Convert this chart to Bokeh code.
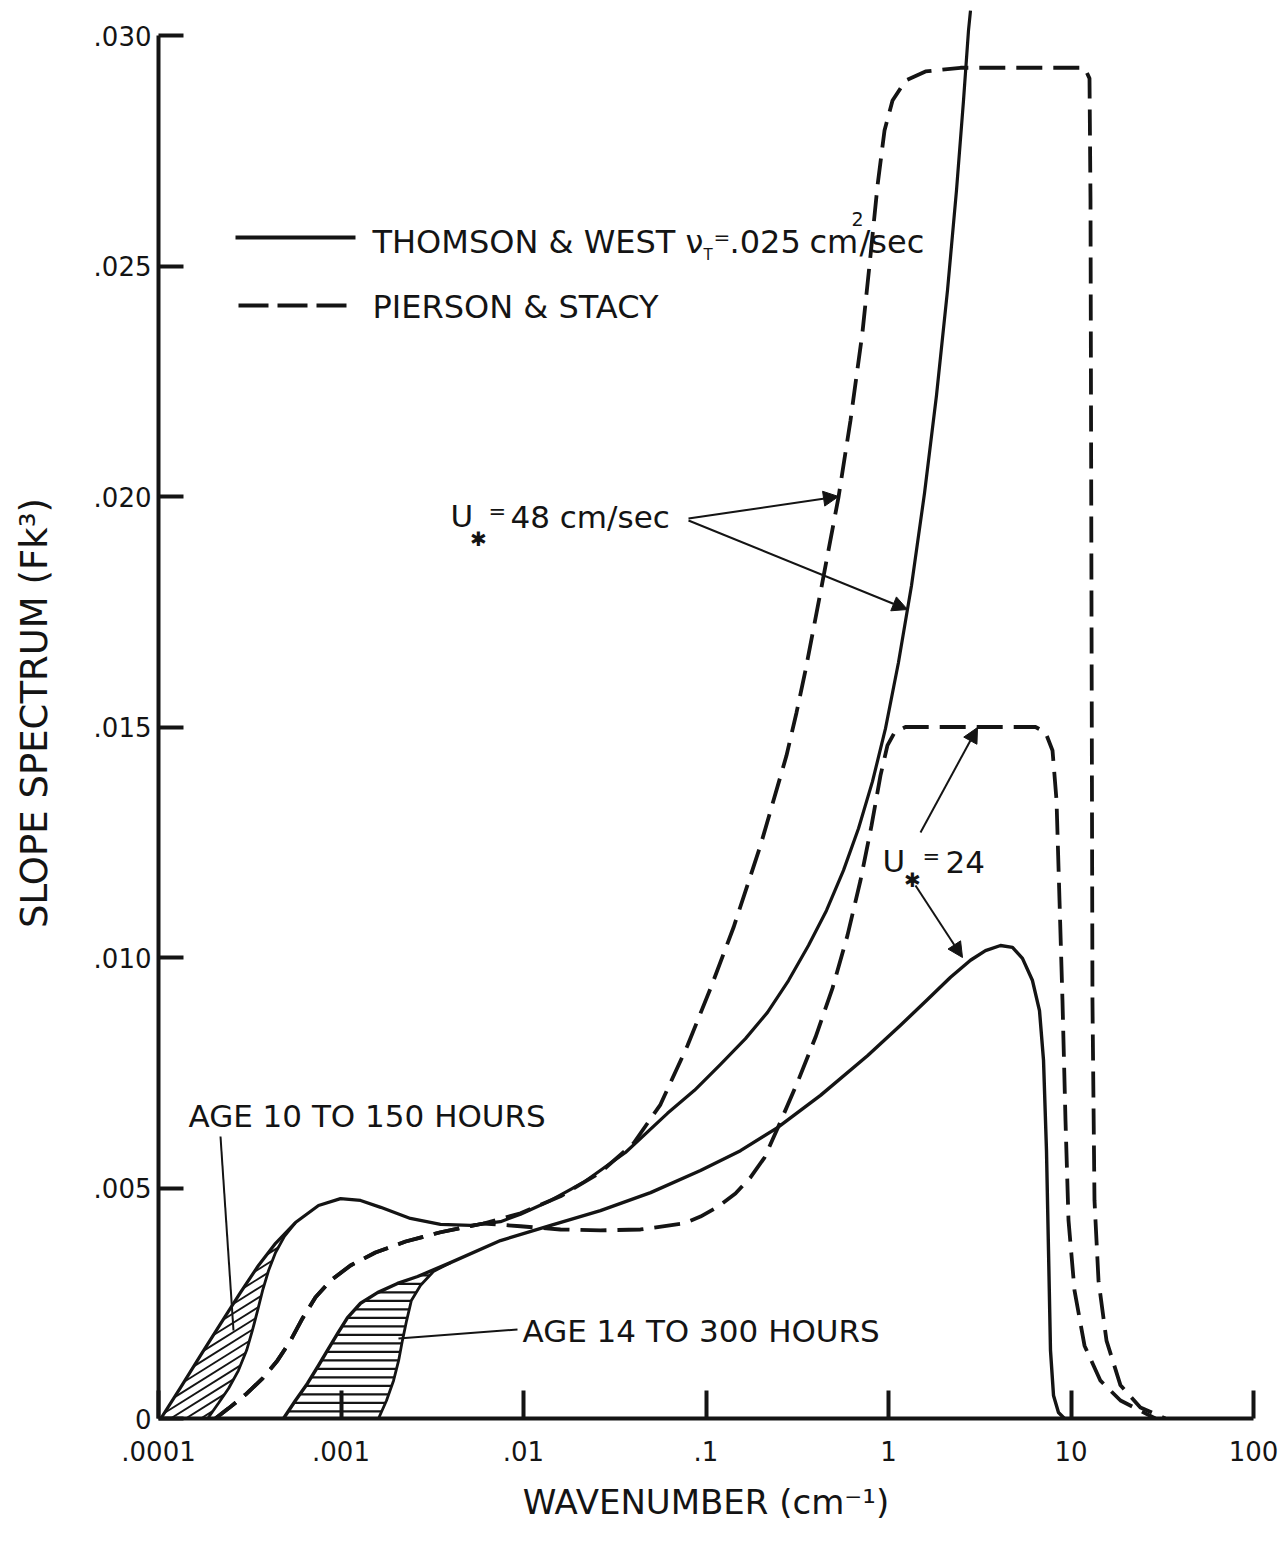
import math
from bokeh.plotting import figure
from bokeh.models import Range1d, FixedTicker, Arrow, NormalHead
from bokeh.embed import file_html
from bokeh.resources import INLINE
from bokeh.core.properties import value

FONT = "DejaVu Sans"
INK = "#141414"

# ---------------- data ----------------
x_ticks = [0.0001, 0.001, 0.01, 0.1, 1, 10, 100]
x_tick_labels = [".0001", ".001", ".01", ".1", "1", "10", "100"]
y_ticks = [0, 0.005, 0.010, 0.015, 0.020, 0.025, 0.030]
y_tick_labels = ["0", ".005", ".010", ".015", ".020", ".025", ".030"]

# Thomson & West, U* = 48 cm/sec (solid); its low-k part is the young edge of band 1
tw48_k = [1.03e-4, 1.32e-4, 1.70e-4, 2.19e-4, 2.81e-4, 3.53e-4, 4.38e-4, 5.63e-4, 7.53e-4, 9.94e-4,
          1.28e-3, 1.65e-3, 2.40e-3, 3.51e-3, 5.12e-3, 7.48e-3, 9.63e-3, 0.0141, 0.0213, 0.0362,
          0.0615, 0.0865, 0.1201, 0.1646, 0.2173, 0.2832, 0.3643, 0.4574, 0.5667, 0.6848,
          0.8173, 0.963, 1.134, 1.337, 1.575, 1.832, 2.105, 2.358, 2.576, 2.744, 2.814]
tw48_s = [0.0, 0.00067, 0.00137, 0.00206, 0.00273, 0.00332, 0.00380, 0.00425, 0.00462, 0.00477,
          0.00473, 0.00458, 0.00434, 0.00421, 0.00419, 0.00427, 0.00443, 0.00473, 0.00512, 0.00577,
          0.00662, 0.00712, 0.00768, 0.00824, 0.00881, 0.00950, 0.01026, 0.01102, 0.01189, 0.01280,
          0.01382, 0.01497, 0.01640, 0.01807, 0.02007, 0.02219, 0.02447, 0.02664, 0.02859, 0.03011, 0.03054]

# old-age edge of band "AGE 10 TO 150 HOURS"
band1_k = [1.86e-4, 2.13e-4, 2.42e-4, 2.74e-4, 3.04e-4, 3.27e-4, 3.49e-4, 3.72e-4, 4.01e-4, 4.38e-4, 4.90e-4, 5.63e-4]
band1_s = [0.0, 0.00033, 0.00065, 0.00104, 0.00148, 0.00191, 0.00234, 0.00278, 0.00321, 0.00360, 0.00395, 0.00425]

# Thomson & West, U* = 24 cm/sec (solid); its low-k part is the young edge of band 2
tw24_k = [4.84e-4, 5.63e-4, 6.55e-4, 7.53e-4, 8.43e-4, 9.57e-4, 1.086e-3, 1.28e-3, 1.585e-3, 2.04e-3,
          2.63e-3, 3.98e-3, 7.48e-3, 0.0141, 0.0264, 0.0497, 0.0933, 0.1545, 0.2465, 0.424,
          0.767, 1.164, 1.636, 2.187, 2.814, 3.40, 4.11, 4.78, 5.42, 6.15,
          6.72, 7.07, 7.34, 7.53, 7.72, 8.02, 8.54, 9.21]
tw24_s = [0.0, 0.00039, 0.00076, 0.00115, 0.00148, 0.00184, 0.00219, 0.00250, 0.00273, 0.00293,
          0.00308, 0.00338, 0.00386, 0.00419, 0.00451, 0.00490, 0.00538, 0.00581, 0.00631, 0.00701,
          0.00787, 0.00853, 0.00909, 0.00957, 0.00994, 0.01015, 0.01026, 0.01022, 0.00998, 0.00950,
          0.00885, 0.00777, 0.00581, 0.00364, 0.00148, 0.00050, 0.00013, 0.0]

# old-age edge of band "AGE 14 TO 300 HOURS"
band2_k = [1.605e-3, 1.776e-3, 1.94e-3, 2.07e-3, 2.17e-3, 2.29e-3, 2.43e-3, 2.73e-3, 3.21e-3, 3.98e-3]
band2_s = [0.0, 0.00039, 0.00082, 0.00126, 0.00169, 0.00213, 0.00256, 0.00289, 0.00319, 0.00338]

# Pierson & Stacy (dashed): common low-wavenumber part
ps_low_k = [2.05e-4, 2.42e-4, 3.0e-4, 3.72e-4, 4.49e-4, 5.29e-4, 6.15e-4, 7.25e-4, 8.76e-4, 1.127e-3,
            1.545e-3, 2.26e-3, 3.51e-3, 6.04e-3]
ps_low_s = [0.0, 0.00022, 0.00052, 0.00087, 0.00126, 0.00169, 0.00217, 0.00263, 0.00299, 0.00332,
            0.00360, 0.00384, 0.00404, 0.00423]
# Pierson & Stacy, U* = 48
ps48_k = [9.63e-3, 0.01595, 0.0264, 0.0401, 0.0563, 0.0792, 0.1059, 0.1415, 0.1989, 0.2761,
          0.3132, 0.3509, 0.424, 0.532, 0.619, 0.720, 0.797, 0.871, 0.951, 1.052,
          1.239, 1.595, 2.48, 11.86, 12.63, 12.79, 12.95, 13.11, 13.45, 14.15,
          15.65, 18.67, 24.0, 32.9]
ps48_s = [0.00445, 0.00482, 0.00534, 0.00597, 0.00681, 0.00809, 0.00933, 0.01065, 0.01243, 0.01438,
          0.01531, 0.01623, 0.01792, 0.01998, 0.02165, 0.02356, 0.02523, 0.02675, 0.02794, 0.02859,
          0.02902, 0.02922, 0.0293, 0.0293, 0.02907, 0.02642, 0.01774, 0.00907, 0.00473, 0.00299,
          0.00169, 0.00072, 0.00024, 0.0]
# Pierson & Stacy, U* = 24
ps24_k = [9.63e-3, 0.01595, 0.0264, 0.0438, 0.0753, 0.0933, 0.1171, 0.1450, 0.1753, 0.2092,
          0.2465, 0.317, 0.398, 0.493, 0.596, 0.702, 0.807, 0.904, 0.987, 1.079,
          1.239, 6.39, 7.25, 7.92, 8.33, 8.65, 8.98, 9.33, 9.69, 10.45,
          11.86, 14.5, 18.67, 29.0]
ps24_s = [0.00417, 0.00410, 0.00408, 0.00410, 0.00423, 0.00438, 0.00460, 0.00488, 0.00523, 0.00566,
          0.00629, 0.00729, 0.00827, 0.00933, 0.01048, 0.01167, 0.01286, 0.01395, 0.01460, 0.01488,
          0.0150, 0.0150, 0.01488, 0.01449, 0.01341, 0.01124, 0.00907, 0.00646, 0.00430, 0.00278,
          0.00158, 0.00082, 0.00039, 0.0]

# ---------------- layout ----------------
LEFT, TOP, FW, FH = 158, 7, 1095, 1411
DEC = FW / 6.0                 # pixels per decade
PPU = 46100.0                  # pixels per unit of slope spectrum
Y_TOP = FH / PPU
Y0 = TOP + FH                  # pixel row of y = 0

def fx(px):
    return 10 ** (-4 + (px - LEFT) / DEC)

def fy(py):
    return (Y0 - py) / PPU

def to_px(k, s):
    return (LEFT + (math.log10(k) + 4) * DEC, Y0 - s * PPU)

p = figure(x_axis_type="log", x_range=Range1d(1e-4, 100), y_range=Range1d(0, Y_TOP),
           frame_width=FW, frame_height=FH,
           min_border_left=LEFT, min_border_right=1283 - LEFT - FW,
           min_border_top=TOP, min_border_bottom=1549 - Y0,
           output_backend="svg", toolbar_location=None)
p.background_fill_color = "white"
p.border_fill_color = "white"
p.outline_line_color = None
p.xgrid.grid_line_color = None
p.ygrid.grid_line_color = None

for ax in (p.xaxis, p.yaxis):
    ax.axis_line_width = 4
    ax.axis_line_color = INK
    ax.major_tick_line_width = 4
    ax.major_tick_line_color = INK
    ax.major_tick_out = 0
    ax.minor_tick_line_color = None
    ax.major_label_text_font = FONT
    ax.major_label_text_font_size = "26px"
    ax.major_label_text_color = INK
    ax.axis_label_text_font = FONT
    ax.axis_label_text_font_style = "normal"
    ax.axis_label_text_color = INK

p.xaxis.ticker = FixedTicker(ticks=x_ticks)
p.xaxis.major_label_overrides = dict(zip(x_ticks, x_tick_labels))
p.xaxis.major_tick_in = 28
p.xaxis.major_label_standoff = 22
p.xaxis.axis_label = "WAVENUMBER (cm\u207b\u00b9)"
p.xaxis.axis_label_text_font_size = "34px"
p.xaxis.axis_label_standoff = 18

p.yaxis.ticker = FixedTicker(ticks=y_ticks)
p.yaxis.major_label_overrides = dict(zip(y_ticks, y_tick_labels))
p.yaxis.major_tick_in = 25
p.yaxis.major_label_standoff = 7
p.yaxis.bounds = (0, 0.030)
p.yaxis.axis_label = "SLOPE SPECTRUM (Fk\u00b3)"
p.yaxis.axis_label_text_font_size = "37px"
p.yaxis.axis_label_standoff = 35

# ---------------- hatching of the age bands ----------------
def hatch(poly, angle_deg, spacing):
    a = math.radians(angle_deg)
    d = (math.cos(a), -math.sin(a))
    n = (math.sin(a), math.cos(a))
    pr = [q[0] * n[0] + q[1] * n[1] for q in poly]
    lo, hi = min(pr), max(pr)
    xs, ys = [], []
    c = lo + spacing * 0.5
    m = len(poly)
    while c < hi:
        hits = []
        for i in range(m):
            p1, p2 = poly[i], poly[(i + 1) % m]
            f1 = p1[0] * n[0] + p1[1] * n[1] - c
            f2 = p2[0] * n[0] + p2[1] * n[1] - c
            if (f1 < 0) != (f2 < 0):
                t = f1 / (f1 - f2)
                hx = p1[0] + t * (p2[0] - p1[0])
                hy = p1[1] + t * (p2[1] - p1[1])
                hits.append((hx * d[0] + hy * d[1], hx, hy))
        hits.sort()
        for j in range(0, len(hits) - 1, 2):
            xa, ya = hits[j][1], hits[j][2]
            xb, yb = hits[j + 1][1], hits[j + 1][2]
            xs.append([fx(xa), fx(xb)])
            ys.append([fy(ya), fy(yb)])
        c += spacing
    return xs, ys

n1 = 8
poly1 = [to_px(k, s) for k, s in zip(tw48_k[:n1], tw48_s[:n1])] + \
        [to_px(k, s) for k, s in list(zip(band1_k, band1_s))[:-1][::-1]]
hx1, hy1 = hatch(poly1, 32, 8)
p.multi_line(hx1, hy1, line_color=INK, line_width=1.9)

n2 = 12
poly2 = [to_px(k, s) for k, s in zip(tw24_k[:n2], tw24_s[:n2])] + \
        [to_px(k, s) for k, s in list(zip(band2_k, band2_s))[:-1][::-1]]
hx2, hy2 = hatch(poly2, 0, 8.5)
p.multi_line(hx2, hy2, line_color=INK, line_width=2.2)

# ---------------- curves ----------------
p.line(band1_k, band1_s, line_color=INK, line_width=2.8)
p.line(band2_k, band2_s, line_color=INK, line_width=2.8)
p.line(tw48_k, tw48_s, line_color=INK, line_width=3.2, line_join="round")
p.line(tw24_k, tw24_s, line_color=INK, line_width=3.4, line_join="round")
p.line(ps_low_k + ps48_k, ps_low_s + ps48_s, line_color=INK, line_width=3.8, line_dash="26 11")
p.line(ps_low_k + ps24_k, ps_low_s + ps24_s, line_color=INK, line_width=3.8, line_dash="26 11")

# ---------------- legend (drawn by hand) ----------------
p.line([fx(235), fx(355)], [fy(237), fy(237)], line_color=INK, line_width=4)
p.line([fx(238), fx(352)], [fy(305), fy(305)], line_color=INK, line_width=4, line_dash="30 9")

def put(txt, px, py, size, align="left"):
    p.text(x=[fx(px)], y=[fy(py)], text=[txt], text_font=value(FONT), text_font_size=size,
           text_align=align, text_baseline="middle", text_color=INK)

put("THOMSON & WEST", 372, 241, "32px")
put("\u03bd", 685, 241, "32px")
put("T", 703, 254, "15px")
put("=", 713, 236, "20px")
put(".025", 729, 241, "32px")
put("cm", 809, 241, "32px")
put("2", 851, 218, "19px")
put("/sec", 859, 241, "32px")
put("PIERSON & STACY", 372, 306, "32px")

put("U", 450, 515, "31px")
put("\u2731", 478, 538, "20px", "center")
put("=", 488, 511, "21px")
put("48 cm/sec", 510, 516, "31px")

put("U", 882, 860, "31px")
put("\u2731", 912, 879, "20px", "center")
put("=", 922, 856, "21px")
put("24", 945, 861, "31px")

put("AGE 10 TO 150 HOURS", 188, 1115, "31px")
put("AGE 14 TO 300 HOURS", 522, 1330, "31px")

# leader lines
p.line([fx(220), fx(233)], [fy(1136), fy(1330)], line_color=INK, line_width=2)
p.line([fx(517), fx(398)], [fy(1329), fy(1338)], line_color=INK, line_width=2)

def arrow(x0, y0, x1, y1):
    p.add_layout(Arrow(end=NormalHead(size=15, fill_color=INK, line_color=INK, line_width=1),
                       x_start=fx(x0), y_start=fy(y0), x_end=fx(x1), y_end=fy(y1),
                       line_color=INK, line_width=2))

arrow(688, 518, 838, 496)
arrow(688, 520, 907, 609)
arrow(920, 832, 977, 727)
arrow(915, 885, 962, 957)

open("out.html", "w").write(file_html(p, INLINE))
